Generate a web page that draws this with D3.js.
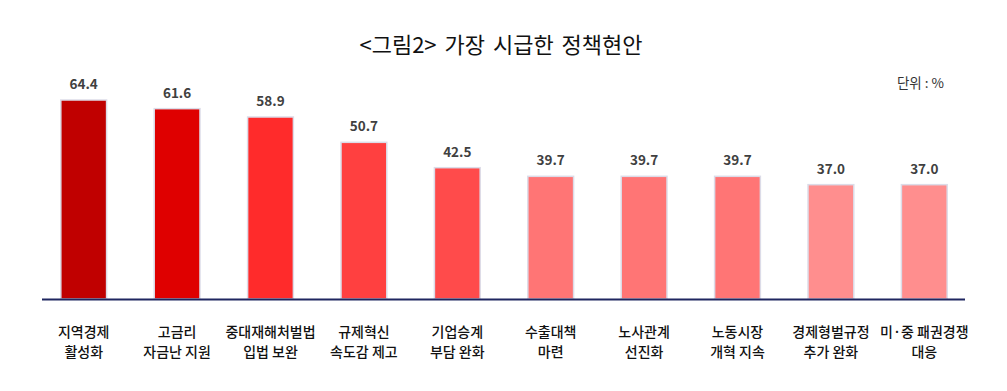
<!DOCTYPE html>
<html>
<head>
<meta charset="utf-8">
<script src="https://cdn.jsdelivr.net/npm/d3@7"></script>
<style>
  html, body { margin: 0; padding: 0; background: #ffffff; }
  svg { display: block; }
</style>
</head>
<body>
<svg id="chart" width="1007" height="391"></svg>
<script>
const categories = [
  ["지역경제", "활성화"],
  ["고금리", "자금난 지원"],
  ["중대재해처벌법", "입법 보완"],
  ["규제혁신", "속도감 제고"],
  ["기업승계", "부담 완화"],
  ["수출대책", "마련"],
  ["노사관계", "선진화"],
  ["노동시장", "개혁 지속"],
  ["경제형벌규정", "추가 완화"],
  ["미·중 패권경쟁", "대응"]
];
const values = [64.4, 61.6, 58.9, 50.7, 42.5, 39.7, 39.7, 39.7, 37.0, 37.0];
const barColors = ["#C00000", "#DF0000", "#FF2B2B", "#FF4040", "#FF4B4B", "#FF7575", "#FF7575", "#FF7575", "#FF8E8E", "#FF8E8E"];
const titleText = "<그림2> 가장 시급한 정책현안";
const unitText = "단위 : %";

const svg = d3.select("#chart");
const font = "'Noto Sans CJK KR', 'Noto Sans', sans-serif";

const x = d3.scaleBand()
  .domain(d3.range(values.length))
  .range([37, 971])
  .paddingInner(0.51)
  .paddingOuter(0.255);

const y = d3.scaleLinear().domain([0, 70]).range([299, 82.7]);

// Title
svg.append("text")
  .attr("x", 501).attr("y", 53)
  .attr("text-anchor", "middle")
  .attr("font-family", font)
  .attr("font-size", 22)
  .attr("font-weight", 400)
  .attr("word-spacing", 3)
  .attr("fill", "#111")
  .text(titleText);

// Unit
svg.append("text")
  .attr("x", 944).attr("y", 88)
  .attr("text-anchor", "end")
  .attr("font-family", font)
  .attr("font-size", 13.5)
  .attr("fill", "#333")
  .text(unitText);

// Bars
svg.append("g").selectAll("rect")
  .data(values)
  .join("rect")
  .attr("x", (d, i) => x(i))
  .attr("y", d => y(d))
  .attr("width", x.bandwidth())
  .attr("height", d => y(0) - y(d))
  .attr("fill", (d, i) => barColors[i])
  .attr("stroke", "#DCDCE8")
  .attr("stroke-width", 1.5);

// Value labels
svg.append("g").selectAll("text")
  .data(values)
  .join("text")
  .attr("x", (d, i) => x(i) + x.bandwidth() / 2)
  .attr("y", d => y(d) - 11)
  .attr("text-anchor", "middle")
  .attr("font-family", font)
  .attr("font-size", 13.5)
  .attr("font-weight", 700)
  .attr("fill", "#404040")
  .text(d => d.toFixed(1));

// Axis line
const xAxis = d3.axisBottom(x).tickSize(0).tickFormat("");
const axisG = svg.append("g").attr("transform", `translate(0,${y(0)})`).call(xAxis);
axisG.select(".domain")
  .attr("d", "M42,0.5H965")
  .attr("stroke", "#1F2660")
  .attr("stroke-width", 2);

// Category labels (two separate text lines each)
const labelG = svg.append("g")
  .attr("text-anchor", "middle")
  .attr("font-family", font)
  .attr("font-size", 14)
  .attr("font-weight", 500)
  .attr("fill", "#111");
[0, 1].forEach(j => {
  labelG.append("g").selectAll("text")
    .data(categories)
    .join("text")
    .attr("x", (d, i) => x(i) + x.bandwidth() / 2)
    .attr("y", 337 + j * 19.5)
    .text(d => d[j]);
});
</script>
</body>
</html>
